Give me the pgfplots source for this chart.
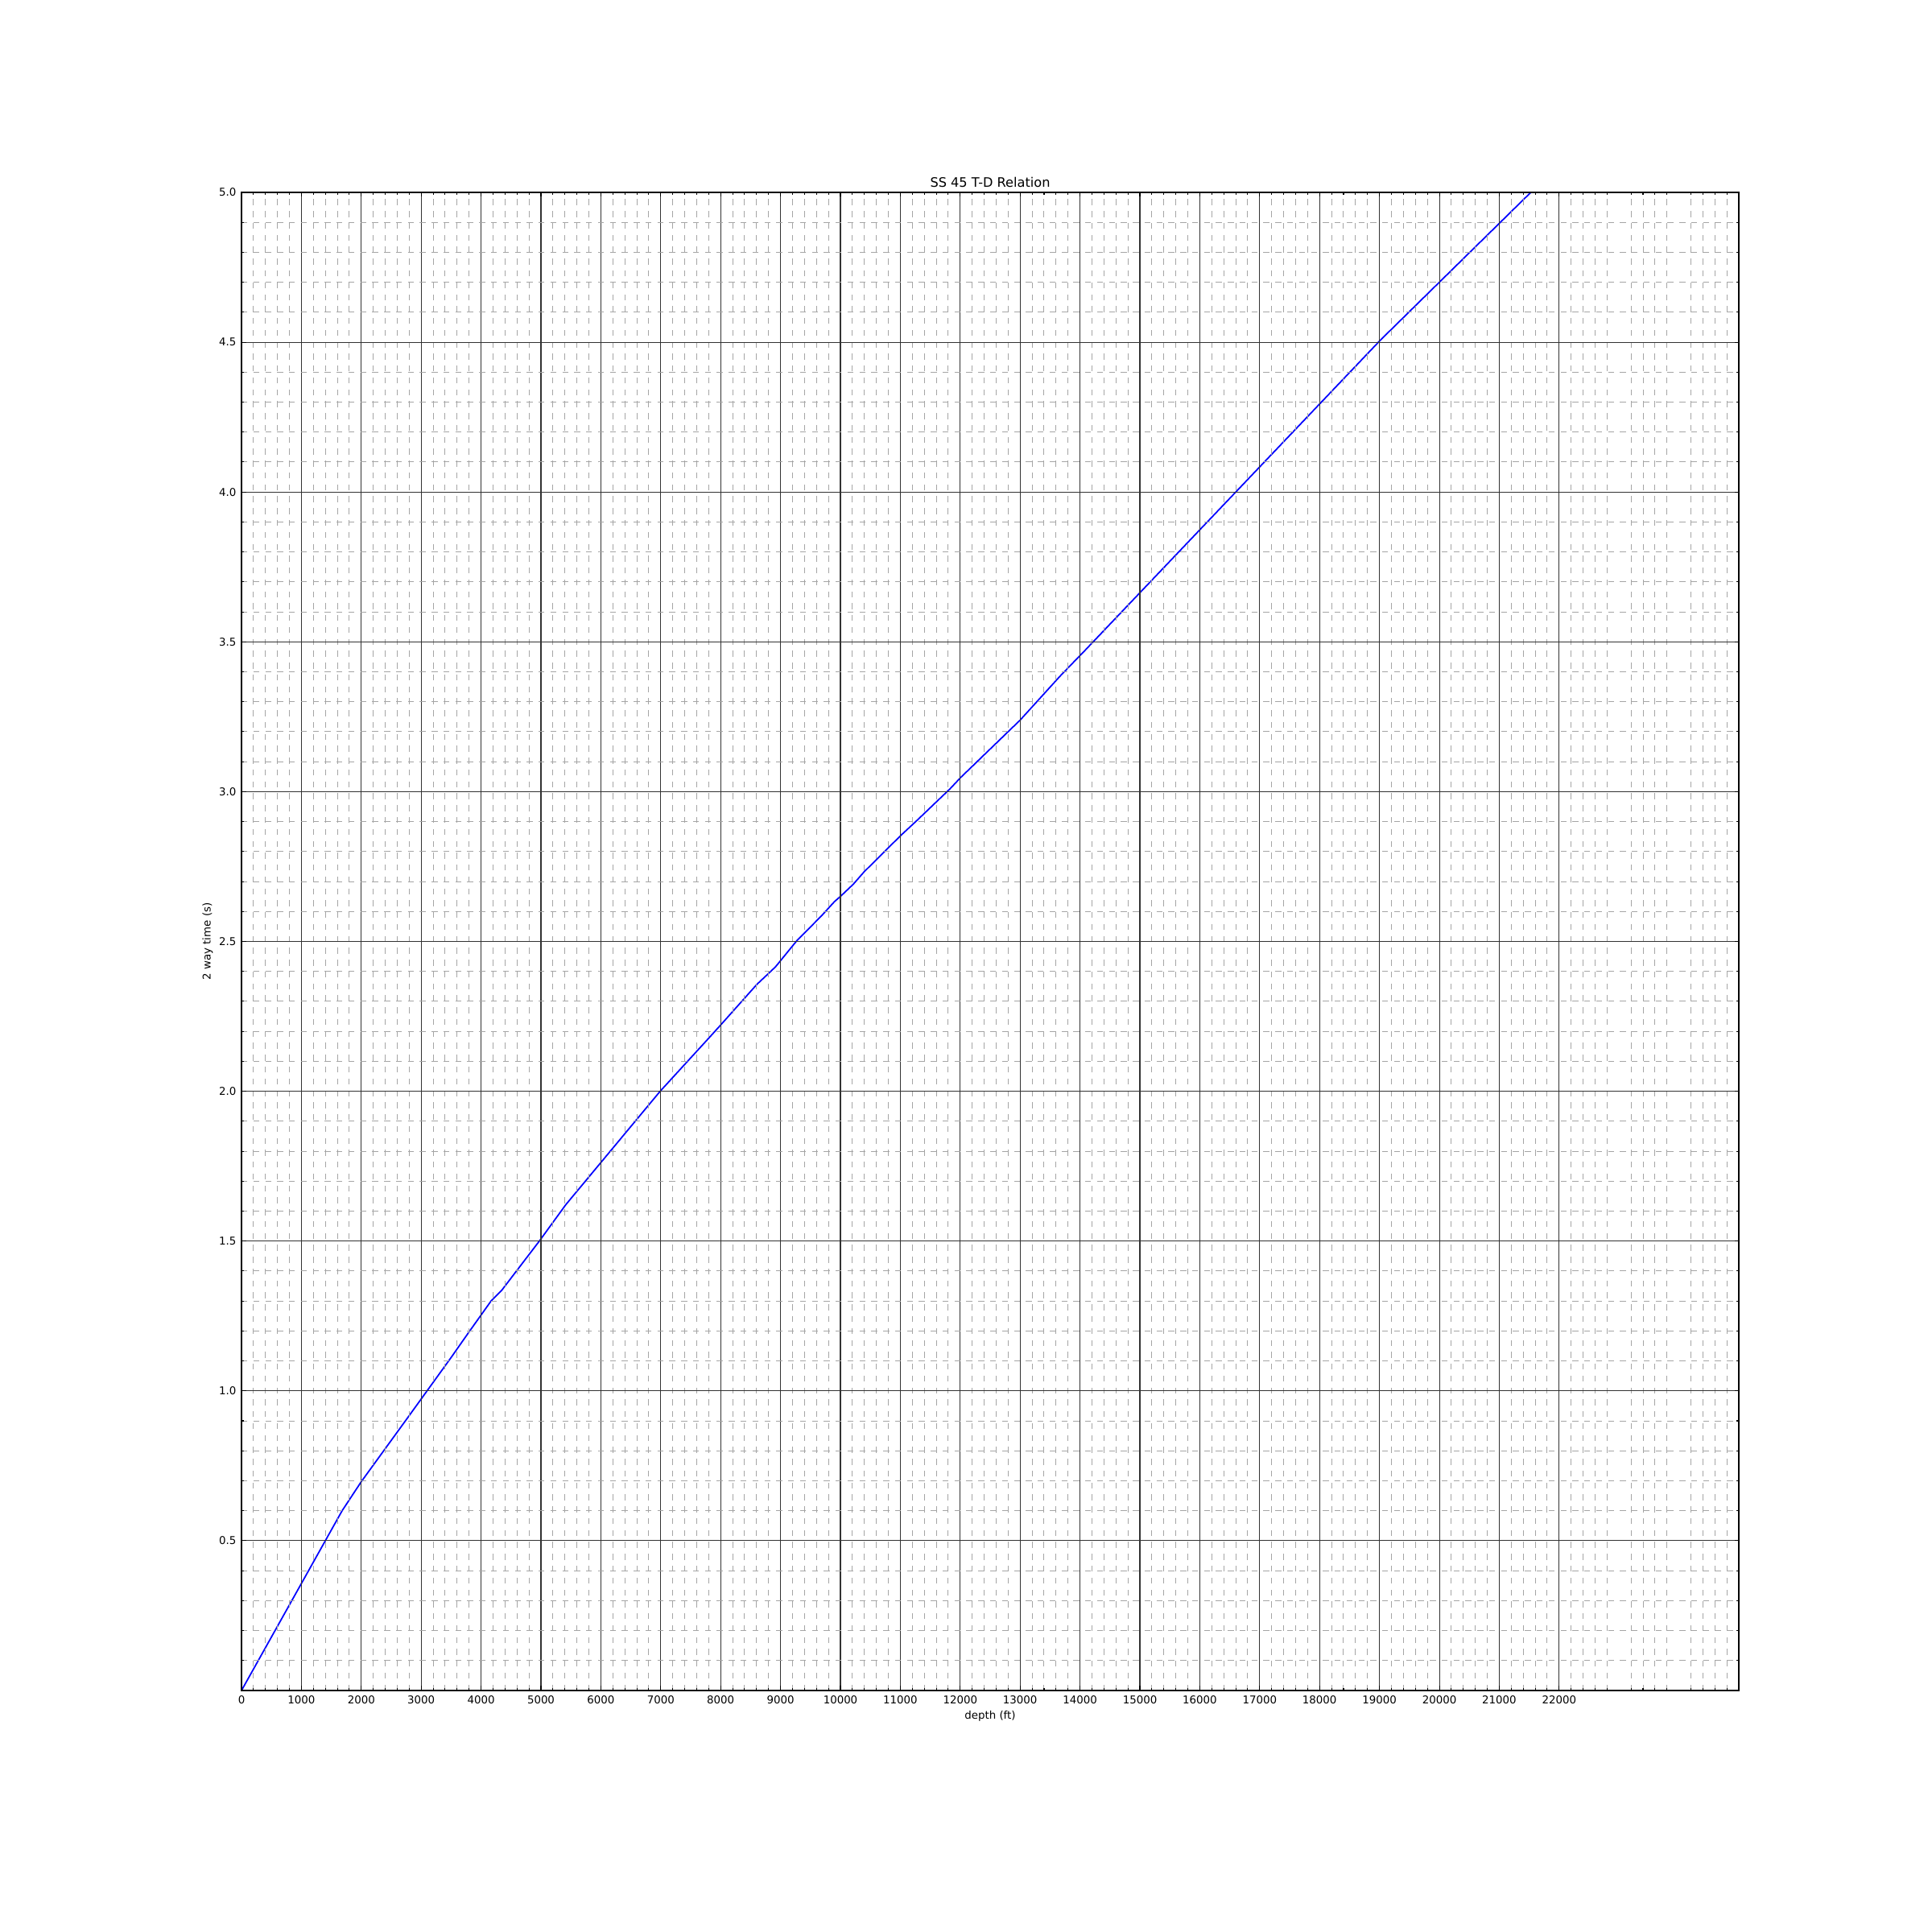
\documentclass[border=0pt]{standalone}
\usepackage{fontspec}
\setmainfont{DejaVu Sans}
\usepackage{pgfplots}
\pgfplotsset{compat=1.18}
\definecolor{minorgray}{RGB}{165,165,165}
\definecolor{majorgray}{RGB}{50,50,50}
\def\minorx{200}
\foreach \k in {2,...,124}{\pgfmathtruncatemacro\r{mod(\k,5)}\ifnum\r>0 \edef\v{\the\numexpr200*\k\relax}\xdef\minorx{\minorx,\v}\fi}
\begin{document}
\begin{tikzpicture}
\path[use as bounding box] (-3cm,-3cm) rectangle (21cm,21cm);
\begin{axis}[
  at={(0,0)}, anchor=south west,
  scale only axis, width=18.6cm, height=18.61cm,
  xmin=0, xmax=25000, ymin=0, ymax=5,
  scaled x ticks=false, scaled y ticks=false,
  xtick={0,1000,...,22000},
  minor xtick/.expanded=\minorx,
  ytick={0.5,1.0,1.5,2.0,2.5,3.0,3.5,4.0,4.5,5.0},
  minor ytick={0.1,0.2,0.3,0.4,0.6,0.7,0.8,0.9,1.1,1.2,1.3,1.4,1.6,1.7,1.8,1.9,2.1,2.2,2.3,2.4,2.6,2.7,2.8,2.9,3.1,3.2,3.3,3.4,3.6,3.7,3.8,3.9,4.1,4.2,4.3,4.4,4.6,4.7,4.8,4.9},
  grid=both,
  major grid style={draw=majorgray, line width=0.3pt},
  minor grid style={draw=minorgray, line width=0.28pt, dash pattern=on 2.1pt off 2.1pt},
  axis line style={black, line width=0.5pt},
  axis on top,
  tick align=inside,
  major tick length=0.055cm, minor tick length=0.027cm,
  tick style={black, line width=0.3pt},
  /pgf/number format/assume math mode=true,
  xticklabel style={font=\fontsize{3.8}{4.5}\selectfont, anchor=base, yshift=-0.165cm, inner sep=0pt},
  yticklabel style={font=\fontsize{3.8}{4.5}\selectfont, anchor=east, xshift=-0.06cm, inner sep=0pt,
     /pgf/number format/fixed, /pgf/number format/fixed zerofill, /pgf/number format/precision=1},
  xticklabel={\pgfmathprintnumber[1000 sep={},fixed,precision=0]{\tick}},
  clip=true,
]
\addplot[blue, line width=0.5pt] coordinates {
(0,0) (1400,0.5) (1680,0.60) (2000,0.697) (2755,0.905) (3495,1.11) (3800,1.197)
(4167,1.30) (4346,1.336) (4973,1.50) (5413,1.621) (6990,2.0) (7796,2.176)
(8000,2.221) (8602,2.356) (8915,2.415) (9274,2.503) (9677,2.584) (9901,2.633)
(10004,2.651) (10215,2.691) (10394,2.732) (11004,2.853) (11268,2.902)
(11828,3.009) (12007,3.047) (13002,3.239) (13665,3.385) (14077,3.47)
(19016,4.507) (21527,5.0)
};
\end{axis}
\node[anchor=base, inner sep=0pt, font=\fontsize{4.6}{5.5}\selectfont] at (9.3cm,18.677cm) {SS 45 T-D Relation};
\node[anchor=center, inner sep=0pt, font=\fontsize{3.8}{4.5}\selectfont] at (9.3cm,-0.32cm) {depth (ft)};
\node[anchor=center, inner sep=0pt, rotate=90, font=\fontsize{3.8}{4.5}\selectfont] at (-0.42cm,9.305cm) {2 way time (s)};
\end{tikzpicture}
\end{document}
